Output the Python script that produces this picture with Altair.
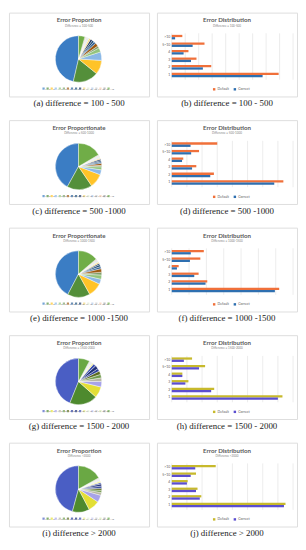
import altair as alt
import pandas as pd

# ---------------- data ----------------
pie_cats = [str(i) for i in range(1, 17)] + [">16"]

pie_a = [47, 18, 10, 6, 3, 1.5, 2.5, 1.5, 1.5, 1.5, 1.2, 1, 0.6, 0.5, 0.5, 0.5, 4.5]
pie_c = [43, 18, 10, 3.5, 2.2, 1, 1.5, 1, 1, 1, 0.8, 0.8, 0.5, 0.4, 0.4, 0.4, 17]
pie_e = [43, 16, 10, 3.5, 3, 2, 2.5, 1.5, 1.5, 1, 1, 0.8, 0.5, 0.5, 0.4, 0.4, 14]
pie_g = [45, 20, 8, 4, 2.5, 2.5, 2.5, 2, 2.5, 2, 1, 0.8, 0.5, 0.4, 0.4, 0.4, 8]
pie_i = [46, 12, 8, 5, 2, 1.5, 1.5, 1.5, 1.5, 1, 1, 0.8, 0.5, 0.4, 0.4, 0.4, 17]

pal_blue = ["#3b7dc4", "#548f3a", "#ffc328", "#8ab8e6", "#93c47d", "#7f9f6a",
            "#9e5a12", "#2e5f94", "#1f4e79", "#203864", "#f4d47a", "#dfe8d2",
            "#b4c7e7", "#c9c9c9", "#f8cbad", "#a5a5a5", "#70ad47"]
pal_purple = ["#4a5ec4", "#4e8a2e", "#e3df35", "#a7a3e8", "#b5b5a0", "#6f9a4a",
              "#5a6a20", "#2d3f9a", "#1f2f78", "#3c4fb0", "#f0ec8a", "#e6f0d8",
              "#c8c8f0", "#c9c9c9", "#d8e8b0", "#a5a5a5", "#6aa844"]

bar_cats = [">10", "5~10", "4", "3", "2", "1"]
series = ["Default", "Correct"]

b_default = [157, 486, 248, 367, 586, 1586]
b_correct = [50, 310, 176, 286, 462, 1348]
d_default = [150, 90, 38, 81, 139, 368]
d_correct = [62, 64, 34, 67, 127, 338]
f_default = [37, 33, 8, 31, 41, 124]
f_correct = [22, 21, 6, 26, 39, 119]
h_default = [13.4, 22, 7, 11, 28, 73]
h_correct = [8, 18, 7, 9, 26, 70]
j_default = [58, 32, 21, 34, 39, 150]
j_correct = [31, 25, 20, 32, 37, 148]

pie_titles = ["Error Proportion", "Error Proportionate", "Error Proportionate",
              "Error Proportion", "Error Proportion"]
subtitles = ["Difference = 100-500", "Difference = 500-1000", "Difference = 1000-1500",
             "Difference = 1500-2000", "Difference >2000"]
captions_left = ["(a) difference = 100 - 500", "(c) difference = 500 -1000",
                 "(e) difference = 1000 -1500", "(g) difference = 1500 - 2000",
                 "(i) difference > 2000"]
captions_right = ["(b) difference = 100 - 500", "(d) difference = 500 -1000",
                  "(f) difference = 1000 -1500", "(h) difference = 1500 - 2000",
                  "(j) difference > 2000"]

W, H = 142, 85
SANS = "Lato"
SERIF = "Liberation Serif"


def caption_title(text):
    return alt.TitleParams(text=text, orient="bottom", font=SERIF, fontSize=9,
                           fontWeight=400, color="#1a1a1a", offset=3,
                           anchor="middle")


def head_layers(title, sub):
    t1 = alt.Chart(pd.DataFrame({"t": [title]})).mark_text(
        font=SANS, fontSize=6.2, fontWeight="bold", color="#595959"
    ).encode(x=alt.value(W / 2), y=alt.value(8), text="t:N")
    t2 = alt.Chart(pd.DataFrame({"t": [sub]})).mark_text(
        font=SANS, fontSize=3, color="#7f7f7f"
    ).encode(x=alt.value(W / 2), y=alt.value(13.5), text="t:N")
    return [t1, t2]


def pie_panel(vals, palette, title, sub, caption):
    df = pd.DataFrame({"cat": pie_cats, "v": vals, "idx": list(range(len(pie_cats)))})
    cscale = alt.Scale(domain=pie_cats, range=palette)
    base = alt.Chart(df)
    arcs = base.mark_arc(radius=23.5, stroke="white", strokeWidth=0.4).encode(
        theta=alt.Theta("v:Q", stack=True),
        color=alt.Color("cat:N", scale=cscale, legend=None),
        order=alt.Order("idx:Q", sort="descending"),
        x=alt.value(70.5), y=alt.value(47),
    )
    xs = alt.Scale(type="point", domain=pie_cats, range=[33, 103])
    leg_pts = base.mark_square(size=5).encode(
        x=alt.X("cat:N", scale=xs, axis=None),
        y=alt.value(77),
        color=alt.Color("cat:N", scale=cscale, legend=None),
    )
    leg_txt = base.mark_text(font=SANS, fontSize=2.4, align="left", dx=1.5,
                             color="#595959").encode(
        x=alt.X("cat:N", scale=xs, axis=None), y=alt.value(77), text="cat:N")
    return alt.layer(arcs, leg_pts, leg_txt, *head_layers(title, sub)).properties(
        width=W, height=H, title=caption_title(caption))


def bar_panel(dv, cv, xmax, step, colors, sub, caption):
    rows = []
    for cat, a, b in zip(bar_cats, dv, cv):
        rows.append({"cat": cat, "series": "Default", "v": a})
        rows.append({"cat": cat, "series": "Correct", "v": b})
    df = pd.DataFrame(rows)
    ticks = list(range(0, xmax + 1, step))
    xs = alt.Scale(domain=[0, xmax], range=[15, 138], nice=False)
    grid = alt.Chart(pd.DataFrame({"t": ticks})).mark_rule(
        color="#d9d9d9", strokeWidth=0.5
    ).encode(x=alt.X("t:Q", scale=xs, axis=None), y=alt.value(21), y2=alt.value(68))
    bars = alt.Chart(df).mark_bar().encode(
        x=alt.X("v:Q", scale=xs,
                axis=alt.Axis(values=ticks, offset=-18, domain=False, ticks=False,
                              grid=False, labelFontSize=3.5, labelColor="#595959",
                              labelFont=SANS, labelPadding=1, title=None)),
        y=alt.Y("cat:N",
                scale=alt.Scale(domain=bar_cats, range=[21, 67], paddingInner=0.4,
                                paddingOuter=0.2),
                axis=alt.Axis(offset=-14, domain=False, ticks=False, grid=False,
                              labelFontSize=3.5, labelColor="#595959", labelFont=SANS,
                              labelPadding=1, title=None)),
        yOffset=alt.YOffset("series:N", scale=alt.Scale(domain=series)),
        color=alt.Color("series:N", scale=alt.Scale(domain=series, range=colors),
                        legend=alt.Legend(orient="none", legendX=56, legendY=75.5,
                                          direction="horizontal", title=None,
                                          symbolType="square", symbolSize=6,
                                          labelFontSize=3.5, labelFont=SANS,
                                          labelColor="#595959", labelOffset=1.5,
                                          columnPadding=4, padding=0)),
    )
    return alt.layer(grid, bars, *head_layers("Error Distribution", sub)).properties(
        width=W, height=H, title=caption_title(caption))


orange_blue = ["#f0703a", "#2e6fb0"]
olive_purple = ["#c7b92c", "#5b4ed0"]

specs = [
    (pie_a, pal_blue, b_default, b_correct, 1800, 200, orange_blue),
    (pie_c, pal_blue, d_default, d_correct, 400, 50, orange_blue),
    (pie_e, pal_blue, f_default, f_correct, 140, 20, orange_blue),
    (pie_g, pal_purple, h_default, h_correct, 80, 10, olive_purple),
    (pie_i, pal_purple, j_default, j_correct, 160, 20, olive_purple),
]

rows = []
for k, (pv, pal, dv, cv, xmax, step, cols) in enumerate(specs):
    left = pie_panel(pv, pal, pie_titles[k], subtitles[k], captions_left[k])
    right = bar_panel(dv, cv, xmax, step, cols, subtitles[k], captions_right[k])
    rows.append(alt.hconcat(left, right, spacing=6).resolve_scale(color="independent"))

chart = alt.vconcat(*rows, spacing=10).resolve_scale(color="independent").properties(
    padding=0
).configure_view(stroke="#dcdcdc", strokeWidth=0.8).configure(background="white")

chart.save("out.html", embed_options={"renderer": "svg", "actions": False})
